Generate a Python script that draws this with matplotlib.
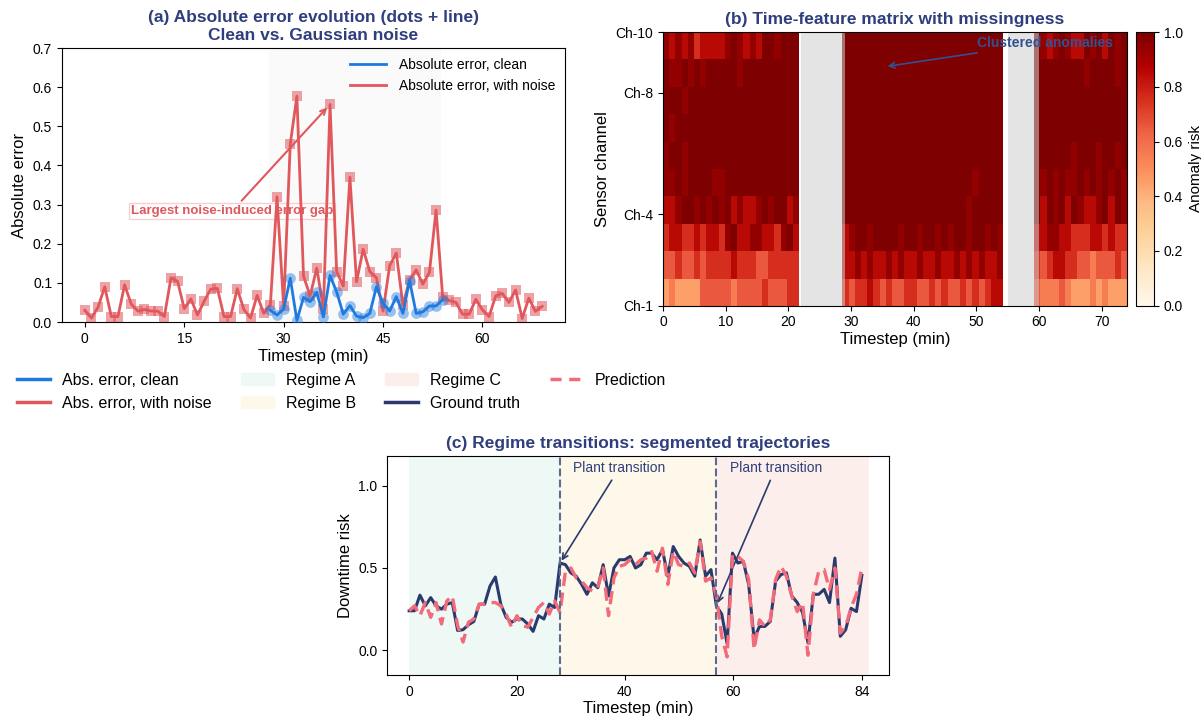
import matplotlib
matplotlib.use("Agg")
import matplotlib.pyplot as plt
import numpy as np
from matplotlib.lines import Line2D
from matplotlib.patches import Patch

plt.rcParams['font.family'] = ['Liberation Sans', 'DejaVu Sans']

# ---------------- panel (a) data ----------------
err_noise = [0.030, 0.010, 0.038, 0.090, 0.014, 0.014, 0.095, 0.046, 0.028, 0.032,
             0.028, 0.028, 0.014, 0.113, 0.104, 0.034, 0.059, 0.018, 0.053, 0.084,
             0.086, 0.014, 0.014, 0.085, 0.032, 0.010, 0.068, 0.022, 0.044, 0.320,
             0.041, 0.455, 0.577, 0.117, 0.067, 0.138, 0.033, 0.556, 0.129, 0.092,
             0.370, 0.103, 0.186, 0.129, 0.113, 0.028, 0.144, 0.176, 0.043, 0.108,
             0.133, 0.097, 0.127, 0.286, 0.064, 0.055, 0.050, 0.020, 0.020, 0.058,
             0.031, 0.014, 0.067, 0.073, 0.050, 0.082, 0.009, 0.061, 0.027, 0.040]
clean_start = 28
err_clean = [0.030, 0.018, 0.033, 0.112, 0.004, 0.063, 0.052, 0.076, 0.013, 0.119,
             0.077, 0.020, 0.042, 0.015, 0.011, 0.022, 0.090, 0.048, 0.028, 0.065,
             0.022, 0.106, 0.022, 0.026, 0.041, 0.041, 0.057]
peak_t = 37

# ---------------- panel (b) data ----------------
# one char per timestep, digit d -> 0.1*d + 0.05, X -> 1.0, '-' -> missing
heat_rows = [  # Ch-1 (bottom) ... Ch-10 (top)
    "4544446666656666766677" "-------" "76778767667766767667676788" "-----" "655565444545444",
    "6676676777787776677777" "-------" "88989889898898898898989889" "-----" "767887766566676",
    "78877878879X88998879X8" "-------" "89XX9XXXX9XX9XX9X9XX9XX9X9" "-----" "889988777887877",
    "889XX9X9X9X89889X9XX89" "-------" "XXXXXXXXXXXXXXXXXXXX9XXXXX" "-----" "X8X9X8X9889X8X9",
    "99X9XXXX99XXXXXXXXXXXX" "-------" "XXXXXXXXXXXXXXXXXXXXX9XXXX" "-----" "X9X9X99X9X9X9X9",
    "9XX9XXXXXXXXXXXXXXXXXX" "-------" "XXXXXXXXXXXXXXXXXXXXXXXXXX" "-----" "XXXXXX9XXX9XX9X",
    "X9XXXXXXXXXXXXXXXXXXXX" "-------" "XXXXXXXXXXXXXXXXXXXXXXXXXX" "-----" "XXXXXXXXXXXXXXX",
    "XXX9XXXXXXXXXXXXXXXXXX" "-------" "XXXXXXXXXXXXXXXXXXXXXXXXXX" "-----" "XXXXXXXXXXXXXXX",
    "X99X9X9XXXXX9XXXXXXXXX" "-------" "XXXXXXXXXXXXXXXXXXXXXXXXXX" "-----" "XXXXXXXX9XXXX9X",
    "98989788889X9898XX9XXX" "-------" "XXXXXXXXXXXXXXXXXXXXXXXXXX" "-----" "X989X988X9X8X9X",
]
missing_spans = [(22, 29), (55, 60)]
channel_ticks = [1, 4, 8, 10]
channel_labels = ["Ch-1", "Ch-4", "Ch-8", "Ch-10"]

# ---------------- panel (c) data ----------------
truth = [0.24, 0.24, 0.335, 0.27, 0.32, 0.27, 0.25, 0.28, 0.29, 0.12,
         0.125, 0.155, 0.175, 0.28, 0.28, 0.39, 0.445, 0.28, 0.20, 0.17,
         0.19, 0.19, 0.16, 0.115, 0.21, 0.19, 0.28, 0.26, 0.53,
         0.52, 0.47, 0.45, 0.40, 0.34, 0.41, 0.38, 0.52, 0.33, 0.50,
         0.55, 0.55, 0.57, 0.50, 0.52, 0.59, 0.59, 0.55, 0.61, 0.45,
         0.63, 0.57, 0.53, 0.51, 0.45, 0.67, 0.45, 0.49, 0.27,
         0.22, 0.04, 0.59, 0.53, 0.54, 0.40, 0.07, 0.145, 0.145, 0.175,
         0.42, 0.46, 0.47, 0.33, 0.29, 0.23, 0.045, 0.34, 0.34, 0.37,
         0.29, 0.56, 0.085, 0.125, 0.255, 0.235, 0.455]
pred = [0.24, 0.27, 0.21, 0.29, 0.20, 0.29, 0.16, 0.30, 0.33, 0.15,
        0.05, 0.17, 0.19, 0.28, 0.28, 0.29, 0.29, 0.27, 0.22, 0.14,
        0.21, 0.15, 0.14, 0.20, 0.26, 0.29, 0.22, 0.30, 0.23,
        0.48, 0.50, 0.44, 0.42, 0.38, 0.36, 0.38, 0.50, 0.21, 0.44,
        0.51, 0.52, 0.55, 0.52, 0.55, 0.56, 0.60, 0.48, 0.62, 0.40,
        0.60, 0.52, 0.51, 0.53, 0.47, 0.66, 0.42, 0.44, 0.33,
        0.085, -0.04, 0.58, 0.57, 0.54, 0.43, 0.005, 0.185, 0.145, 0.185,
        0.43, 0.51, 0.45, 0.33, 0.235, 0.29, -0.03, 0.34, 0.48, 0.49,
        0.37, 0.50, 0.105, 0.145, 0.26, 0.34, 0.50]
regimes = [("Regime A", 0, 28, "#eef8f5"),
           ("Regime B", 28, 57, "#fdf8e9"),
           ("Regime C", 57, 85.3, "#fcefeb")]
transitions = [28, 57]

NAVY = "#2f3e7c"
RED = "#e0575c"
BLUE = "#1f7ae0"
GT = "#2b3a6e"
PRED = "#f26b7a"

fig = plt.figure(figsize=(12.01, 7.18), dpi=100)

# ================= (a) =================
ax = fig.add_axes([0.0516, 0.5515, 0.4188, 0.3816])
t_noise = np.arange(len(err_noise))
t_clean = np.arange(clean_start, clean_start + len(err_clean))
ax.axvspan(27.8, 53.6, color="#fafafa", zorder=0)
ax.plot(t_clean, err_clean, color=BLUE, lw=2, zorder=3, label="Absolute error, clean")
ax.scatter(t_clean, err_clean, s=60, marker="o", color=BLUE, alpha=0.45, lw=0, zorder=3)
ax.plot(t_noise, err_noise, color=RED, lw=2, zorder=2, label="Absolute error, with noise")
ax.scatter(t_noise, err_noise, s=60, marker="s", color=RED, alpha=0.55, lw=0, zorder=2)
ax.annotate("Largest noise-induced error gap", xy=(peak_t, err_noise[peak_t]),
            xytext=(22.2, 0.283), ha="center", va="center", fontsize=9.5,
            fontweight="bold", color=RED, zorder=1,
            bbox=dict(boxstyle="square,pad=0.15", fc="white", ec="#f6c9cb", alpha=0.85),
            arrowprops=dict(arrowstyle="->", color=RED, lw=1.5, shrinkA=2, shrinkB=3))
ax.set_ylim(0, 0.7)
ax.set_xticks([0, 15, 30, 45, 60])
ax.set_xlabel("Timestep (min)", fontsize=12, labelpad=2)
ax.set_ylabel("Absolute error", fontsize=12)
ax.tick_params(labelsize=10)
ax.set_title("(a) Absolute error evolution (dots + line)\nClean vs. Gaussian noise",
             fontsize=12.5, fontweight="bold", color=NAVY, pad=6)
ax.legend(loc="upper right", frameon=False, fontsize=10, handlelength=2.6,
          handletextpad=0.9, borderaxespad=0.3)

# ================= (b) =================
axb = fig.add_axes([0.552, 0.5742, 0.3861, 0.3812])
code = {"X": 1.0, "-": np.nan}
mat = np.array([[code[c] if c in code else 0.1 * int(c) + 0.05 for c in row]
                for row in heat_rows])
cmap = plt.get_cmap("OrRd").copy()
cmap.set_bad((1, 1, 1, 0))
im = axb.imshow(mat, origin="lower", aspect="auto", cmap=cmap, vmin=0, vmax=1,
                extent=[0, 74, 1, 10], interpolation="nearest")
for a, b in missing_spans:
    axb.axvspan(a, b, color="#cfcfcf", alpha=0.55, lw=0)
axb.set_xlim(0, 74)
axb.set_ylim(1, 10)
axb.set_yticks(channel_ticks)
axb.set_yticklabels(channel_labels)
axb.set_xticks(np.arange(0, 71, 10))
axb.tick_params(labelsize=10)
axb.set_xlabel("Timestep (min)", fontsize=12, labelpad=2)
axb.set_ylabel("Sensor channel", fontsize=12)
axb.set_title("(b) Time-feature matrix with missingness", fontsize=12.5,
              fontweight="bold", color=NAVY, pad=6)
axb.annotate("Clustered anomalies", xy=(35.4, 8.86), xytext=(61, 9.65),
             ha="center", va="center", fontsize=10, fontweight="bold", color="#34508f",
             arrowprops=dict(arrowstyle="->", color="#34508f", lw=1.2))
cax = fig.add_axes([0.9459, 0.5742, 0.015, 0.3812])
cb = fig.colorbar(im, cax=cax)
cb.set_label("Anomaly risk", fontsize=11, labelpad=4)
cb.ax.tick_params(labelsize=10)

# ================= (c) =================
axc = fig.add_axes([0.3225, 0.0599, 0.418, 0.305])
for name, a, b, col in regimes:
    axc.axvspan(a, b, color=col, lw=0, zorder=0)
t_c = np.arange(len(truth))
axc.plot(t_c, truth, color=GT, lw=2.2, zorder=3)
axc.plot(t_c, pred, color=PRED, lw=2.4, ls=(0, (4, 2)), zorder=4)
for x in transitions:
    axc.axvline(x, color="#5d6b91", ls="--", lw=1.5, zorder=5)
    axc.annotate("Plant transition", xy=(x, truth[x]), xytext=(x + 11, 1.107),
                 ha="center", va="center", fontsize=10, color=NAVY,
                 arrowprops=dict(arrowstyle="->", color=GT, lw=1.2, shrinkA=2, shrinkB=2))
axc.set_xlim(-4.05, 89.1)
axc.set_ylim(-0.15, 1.18)
axc.set_xticks([0, 20, 40, 60, 84])
axc.set_yticks([0.0, 0.5, 1.0])
axc.tick_params(labelsize=10)
axc.set_xlabel("Timestep (min)", fontsize=12, labelpad=2)
axc.set_ylabel("Downtime risk", fontsize=12)
axc.set_title("(c) Regime transitions: segmented trajectories", fontsize=12.5,
              fontweight="bold", color=NAVY, pad=6)

# ================= shared legend =================
handles = [Line2D([], [], color=BLUE, lw=2.5),
           Line2D([], [], color=RED, lw=2.5),
           Patch(color=regimes[0][3]), Patch(color=regimes[1][3]), Patch(color=regimes[2][3]),
           Line2D([], [], color=GT, lw=2.5),
           Line2D([], [], color=PRED, lw=2.5, ls=(0, (3.2, 2.2)))]
labels = ["Abs. error, clean", "Abs. error, with noise", "Regime A", "Regime B",
          "Regime C", "Ground truth", "Prediction"]
fig.legend(handles, labels, ncol=4, loc="upper left", bbox_to_anchor=(0.0139, 0.481),
           frameon=False, fontsize=11.5, handlelength=2.06, handletextpad=0.75,
           columnspacing=1.85, borderpad=0, borderaxespad=0, labelspacing=0.5)

fig.savefig("out.png", dpi=100)
